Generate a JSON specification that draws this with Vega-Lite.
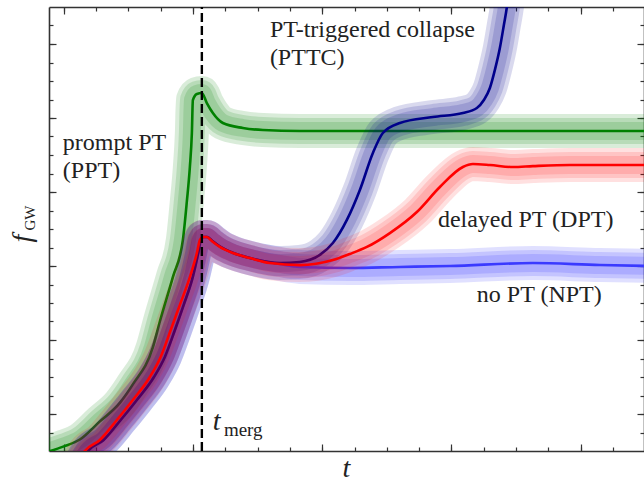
{
  "$schema": "https://vega.github.io/schema/vega-lite/v6.json",
  "width": 595,
  "height": 444,
  "autosize": {"type": "none"},
  "padding": {"left": 49, "top": 7, "right": 0, "bottom": 32},
  "background": "white",
  "config": {
    "view": {"stroke": null},
    "axis": {
      "labels": false, "grid": false, "domainColor": "#333333", "domainWidth": 1.6,
      "tickColor": "#333333", "tickWidth": 1.2, "titleFont": "'Liberation Serif', 'DejaVu Serif', serif",
      "titleFontStyle": "italic", "titleFontWeight": "normal", "titleFontSize": 28,
      "titleColor": "#222222", "zindex": 1
    },
    "text": {"font": "'Liberation Serif', 'DejaVu Serif', serif", "fontSize": 24, "color": "#222222", "align": "left", "baseline": "alphabetic"}
  },
  "datasets": {
    "ppt": [
      {"t": -0.6, "f": -0.1}, {"t": 0.0, "f": 0.25}, {"t": 0.495, "f": 0.62}, {"t": 1.115, "f": 1.6},
      {"t": 1.734, "f": 2.6}, {"t": 2.136, "f": 3.6}, {"t": 2.755, "f": 5.6}, {"t": 2.972, "f": 7.0},
      {"t": 3.375, "f": 9.4}, {"t": 3.684, "f": 11.4}, {"t": 3.808, "f": 13.5}, {"t": 3.901, "f": 15.35},
      {"t": 3.963, "f": 17.19}, {"t": 3.994, "f": 18.97}, {"t": 4.118, "f": 19.3}, {"t": 4.272, "f": 19.35},
      {"t": 4.427, "f": 18.81}, {"t": 4.613, "f": 18.27}, {"t": 4.923, "f": 17.73}, {"t": 5.542, "f": 17.46},
      {"t": 6.161, "f": 17.35}, {"t": 7.307, "f": 17.3}, {"t": 12.0, "f": 17.3}, {"t": 18.2, "f": 17.3}
    ],
    "dpt": [
      {"t": 0.5, "f": -0.4}, {"t": 0.65, "f": 0.0}, {"t": 1.115, "f": 0.595}, {"t": 1.641, "f": 1.676},
      {"t": 2.136, "f": 2.757}, {"t": 2.663, "f": 4.0}, {"t": 3.0, "f": 5.1}, {"t": 3.3, "f": 6.5},
      {"t": 3.591, "f": 7.9}, {"t": 3.901, "f": 9.4}, {"t": 4.118, "f": 10.7}, {"t": 4.211, "f": 11.4},
      {"t": 4.303, "f": 11.57}, {"t": 4.427, "f": 11.57}, {"t": 4.582, "f": 11.35}, {"t": 4.83, "f": 11.03},
      {"t": 5.232, "f": 10.7}, {"t": 5.759, "f": 10.43}, {"t": 6.378, "f": 10.16}, {"t": 7.307, "f": 10.05},
      {"t": 8.328, "f": 10.32}, {"t": 8.854, "f": 10.65}, {"t": 9.381, "f": 11.03}, {"t": 10.093, "f": 11.78},
      {"t": 10.929, "f": 12.92}, {"t": 11.641, "f": 14.27}, {"t": 12.353, "f": 15.35}, {"t": 12.663, "f": 15.51},
      {"t": 13.189, "f": 15.46}, {"t": 13.901, "f": 15.35}, {"t": 14.52, "f": 15.4}, {"t": 15.666, "f": 15.46},
      {"t": 18.2, "f": 15.46}
    ],
    "npt": [
      {"t": 0.6, "f": -0.4}, {"t": 0.75, "f": 0.0}, {"t": 1.23, "f": 0.595}, {"t": 1.76, "f": 1.676},
      {"t": 2.26, "f": 2.757}, {"t": 2.79, "f": 4.0}, {"t": 3.13, "f": 5.1}, {"t": 3.43, "f": 6.5},
      {"t": 3.71, "f": 7.9}, {"t": 3.99, "f": 9.4}, {"t": 4.16, "f": 10.7}, {"t": 4.24, "f": 11.4},
      {"t": 4.32, "f": 11.57}, {"t": 4.44, "f": 11.57}, {"t": 4.6, "f": 11.35}, {"t": 4.85, "f": 11.03},
      {"t": 5.25, "f": 10.7}, {"t": 5.759, "f": 10.43}, {"t": 6.687, "f": 10.11}, {"t": 7.307, "f": 9.95},
      {"t": 8.854, "f": 9.89}, {"t": 10.402, "f": 9.95}, {"t": 11.95, "f": 10.0}, {"t": 14.52, "f": 10.16},
      {"t": 16.594, "f": 10.05}, {"t": 18.2, "f": 10.0}
    ],
    "pttc": [
      {"t": 0.6, "f": -0.4}, {"t": 0.75, "f": 0.0}, {"t": 1.23, "f": 0.595}, {"t": 1.76, "f": 1.676},
      {"t": 2.26, "f": 2.757}, {"t": 2.79, "f": 4.0}, {"t": 3.13, "f": 5.1}, {"t": 3.43, "f": 6.5},
      {"t": 3.71, "f": 7.9}, {"t": 3.99, "f": 9.4}, {"t": 4.16, "f": 10.7}, {"t": 4.24, "f": 11.4},
      {"t": 4.32, "f": 11.57}, {"t": 4.44, "f": 11.57}, {"t": 4.6, "f": 11.35}, {"t": 4.85, "f": 11.03},
      {"t": 5.25, "f": 10.7}, {"t": 5.759, "f": 10.43}, {"t": 6.687, "f": 10.16}, {"t": 7.307, "f": 10.22},
      {"t": 7.926, "f": 10.6}, {"t": 8.328, "f": 11.24}, {"t": 8.762, "f": 12.49}, {"t": 9.164, "f": 14.11},
      {"t": 9.567, "f": 16.11}, {"t": 9.876, "f": 17.19}, {"t": 10.402, "f": 17.73}, {"t": 11.424, "f": 18.05},
      {"t": 12.353, "f": 18.27}, {"t": 12.786, "f": 18.54}, {"t": 13.003, "f": 18.97}, {"t": 13.189, "f": 19.62},
      {"t": 13.344, "f": 20.6}, {"t": 13.498, "f": 21.78}, {"t": 13.622, "f": 23.03}, {"t": 13.715, "f": 24.0},
      {"t": 13.777, "f": 24.92}, {"t": 13.85, "f": 26.0}
    ],
    "labels": [
      {"label": "PT-triggered collapse", "t": 6.378, "f": 22.378},
      {"label": "(PTTC)", "t": 6.378, "f": 20.865},
      {"label": "prompt PT", "t": -0.031, "f": 16.27},
      {"label": "(PPT)", "t": -0.031, "f": 14.757},
      {"label": "delayed PT (DPT)", "t": 11.579, "f": 12.108},
      {"label": "no PT (NPT)", "t": 12.786, "f": 8.054}
    ],
    "merger": [{"t": 4.272, "f": 0, "f2": 24}],
    "tsym": [{"label": "t", "t": 4.613, "f": 1.135}],
    "tsub": [{"label": "merg", "t": 4.954, "f": 0.811}],
    "fsub": [{"label": "GW", "t": -0.898, "f": 12.595}]
  },
  "encoding": {
    "x": {"field": "t", "type": "quantitative", "scale": {"domain": [-0.46, 17.96], "nice": false, "zero": false}, "axis": null},
    "y": {"field": "f", "type": "quantitative", "scale": {"domain": [0, 24], "nice": false, "zero": false}, "axis": null}
  },
  "layer": [
    {"data": {"name": "ppt"},
     "mark": {"type": "line", "color": "#008000", "strokeWidth": 34, "opacity": 0.15, "strokeCap": "round", "strokeJoin": "round", "interpolate": "monotone", "clip": true},
     "encoding": {
       "x": {"field": "t", "type": "quantitative", "scale": {"domain": [-0.46, 17.96], "nice": false, "zero": false},
             "axis": {"orient": "bottom", "values": [0, 4, 8, 12, 16], "tickSize": -7, "title": "t", "titleX": 297, "titleY": 25, "titleAlign": "center", "titleBaseline": "alphabetic"}},
       "y": {"field": "f", "type": "quantitative", "scale": {"domain": [0, 24], "nice": false, "zero": false},
             "axis": {"orient": "left", "values": [2, 6, 10, 14, 18, 22], "tickSize": -7, "title": "f", "titleAngle": 270, "titleX": -19, "titleY": 231, "titleAlign": "center", "titleBaseline": "alphabetic"}}
     }},
    {"data": {"name": "ppt"},
     "mark": {"type": "line", "color": "#008000", "strokeWidth": 26, "opacity": 0.15, "strokeCap": "round", "strokeJoin": "round", "interpolate": "monotone", "clip": true},
     "encoding": {
       "x": {"field": "t", "type": "quantitative", "scale": {"domain": [-0.46, 17.96], "nice": false, "zero": false},
             "axis": {"orient": "top", "values": [0, 4, 8, 12, 16], "tickSize": -7, "title": null}},
       "y": {"field": "f", "type": "quantitative", "scale": {"domain": [0, 24], "nice": false, "zero": false},
             "axis": {"orient": "right", "values": [2, 6, 10, 14, 18, 22], "tickSize": -7, "title": null}}
     }},
    {"data": {"name": "ppt"},
     "mark": {"type": "line", "color": "#008000", "strokeWidth": 18, "opacity": 0.15, "strokeCap": "round", "strokeJoin": "round", "interpolate": "monotone", "clip": true},
     "encoding": {
       "x": {"field": "t", "type": "quantitative", "scale": {"domain": [-0.46, 17.96], "nice": false, "zero": false},
             "axis": {"orient": "bottom", "values": [0,1,2,3,4,5,6,7,8,9,10,11,12,13,14,15,16,17], "tickSize": -4, "domain": false, "title": null}},
       "y": {"field": "f", "type": "quantitative", "scale": {"domain": [0, 24], "nice": false, "zero": false},
             "axis": {"orient": "left", "values": [1,2,3,4,5,6,7,8,9,10,11,12,13,14,15,16,17,18,19,20,21,22,23], "tickSize": -4, "domain": false, "title": null}}
     }},
    {"data": {"name": "ppt"},
     "mark": {"type": "line", "color": "#008000", "strokeWidth": 2.6, "interpolate": "monotone", "clip": true},
     "encoding": {
       "x": {"field": "t", "type": "quantitative", "scale": {"domain": [-0.46, 17.96], "nice": false, "zero": false},
             "axis": {"orient": "top", "values": [0,1,2,3,4,5,6,7,8,9,10,11,12,13,14,15,16,17], "tickSize": -4, "domain": false, "title": null}},
       "y": {"field": "f", "type": "quantitative", "scale": {"domain": [0, 24], "nice": false, "zero": false},
             "axis": {"orient": "right", "values": [1,2,3,4,5,6,7,8,9,10,11,12,13,14,15,16,17,18,19,20,21,22,23], "tickSize": -4, "domain": false, "title": null}}
     }},
    {"data": {"name": "npt"}, "mark": {"type": "line", "color": "#0000ff", "strokeWidth": 34, "opacity": 0.12, "strokeCap": "round", "strokeJoin": "round", "interpolate": "monotone", "clip": true}},
    {"data": {"name": "npt"}, "mark": {"type": "line", "color": "#0000ff", "strokeWidth": 26, "opacity": 0.12, "strokeCap": "round", "strokeJoin": "round", "interpolate": "monotone", "clip": true}},
    {"data": {"name": "npt"}, "mark": {"type": "line", "color": "#0000ff", "strokeWidth": 18, "opacity": 0.12, "strokeCap": "round", "strokeJoin": "round", "interpolate": "monotone", "clip": true}},
    {"data": {"name": "pttc"}, "mark": {"type": "line", "color": "#00008b", "strokeWidth": 34, "opacity": 0.15, "strokeCap": "round", "strokeJoin": "round", "interpolate": "monotone", "clip": true}},
    {"data": {"name": "pttc"}, "mark": {"type": "line", "color": "#00008b", "strokeWidth": 26, "opacity": 0.15, "strokeCap": "round", "strokeJoin": "round", "interpolate": "monotone", "clip": true}},
    {"data": {"name": "pttc"}, "mark": {"type": "line", "color": "#00008b", "strokeWidth": 18, "opacity": 0.15, "strokeCap": "round", "strokeJoin": "round", "interpolate": "monotone", "clip": true}},
    {"data": {"name": "npt"}, "mark": {"type": "line", "color": "#3a3aff", "strokeWidth": 2.6, "interpolate": "monotone", "clip": true}},
    {"data": {"name": "pttc"}, "mark": {"type": "line", "color": "#00008b", "strokeWidth": 2.6, "interpolate": "monotone", "clip": true}},
    {"data": {"name": "dpt"}, "mark": {"type": "line", "color": "#ff0000", "strokeWidth": 34, "opacity": 0.12, "strokeCap": "round", "strokeJoin": "round", "interpolate": "monotone", "clip": true}},
    {"data": {"name": "dpt"}, "mark": {"type": "line", "color": "#ff0000", "strokeWidth": 26, "opacity": 0.12, "strokeCap": "round", "strokeJoin": "round", "interpolate": "monotone", "clip": true}},
    {"data": {"name": "dpt"}, "mark": {"type": "line", "color": "#ff0000", "strokeWidth": 18, "opacity": 0.12, "strokeCap": "round", "strokeJoin": "round", "interpolate": "monotone", "clip": true}},
    {"data": {"name": "dpt"}, "mark": {"type": "line", "color": "#ff0000", "strokeWidth": 2.6, "interpolate": "monotone", "clip": true}},
    {"data": {"name": "merger"},
     "mark": {"type": "rule", "color": "#000000", "strokeWidth": 2.4, "strokeDash": [9, 4]},
     "encoding": {"y2": {"field": "f2"}}},
    {"data": {"name": "labels"}, "mark": {"type": "text"}, "encoding": {"text": {"field": "label"}}},
    {"data": {"name": "tsym"}, "mark": {"type": "text", "fontStyle": "italic", "fontSize": 28}, "encoding": {"text": {"field": "label"}}},
    {"data": {"name": "tsub"}, "mark": {"type": "text", "fontSize": 19}, "encoding": {"text": {"field": "label"}}},
    {"data": {"name": "fsub"}, "mark": {"type": "text", "fontSize": 15, "angle": 270, "align": "center"}, "encoding": {"text": {"field": "label"}}}
  ],
  "resolve": {"axis": {"x": "independent", "y": "independent"}}
}
